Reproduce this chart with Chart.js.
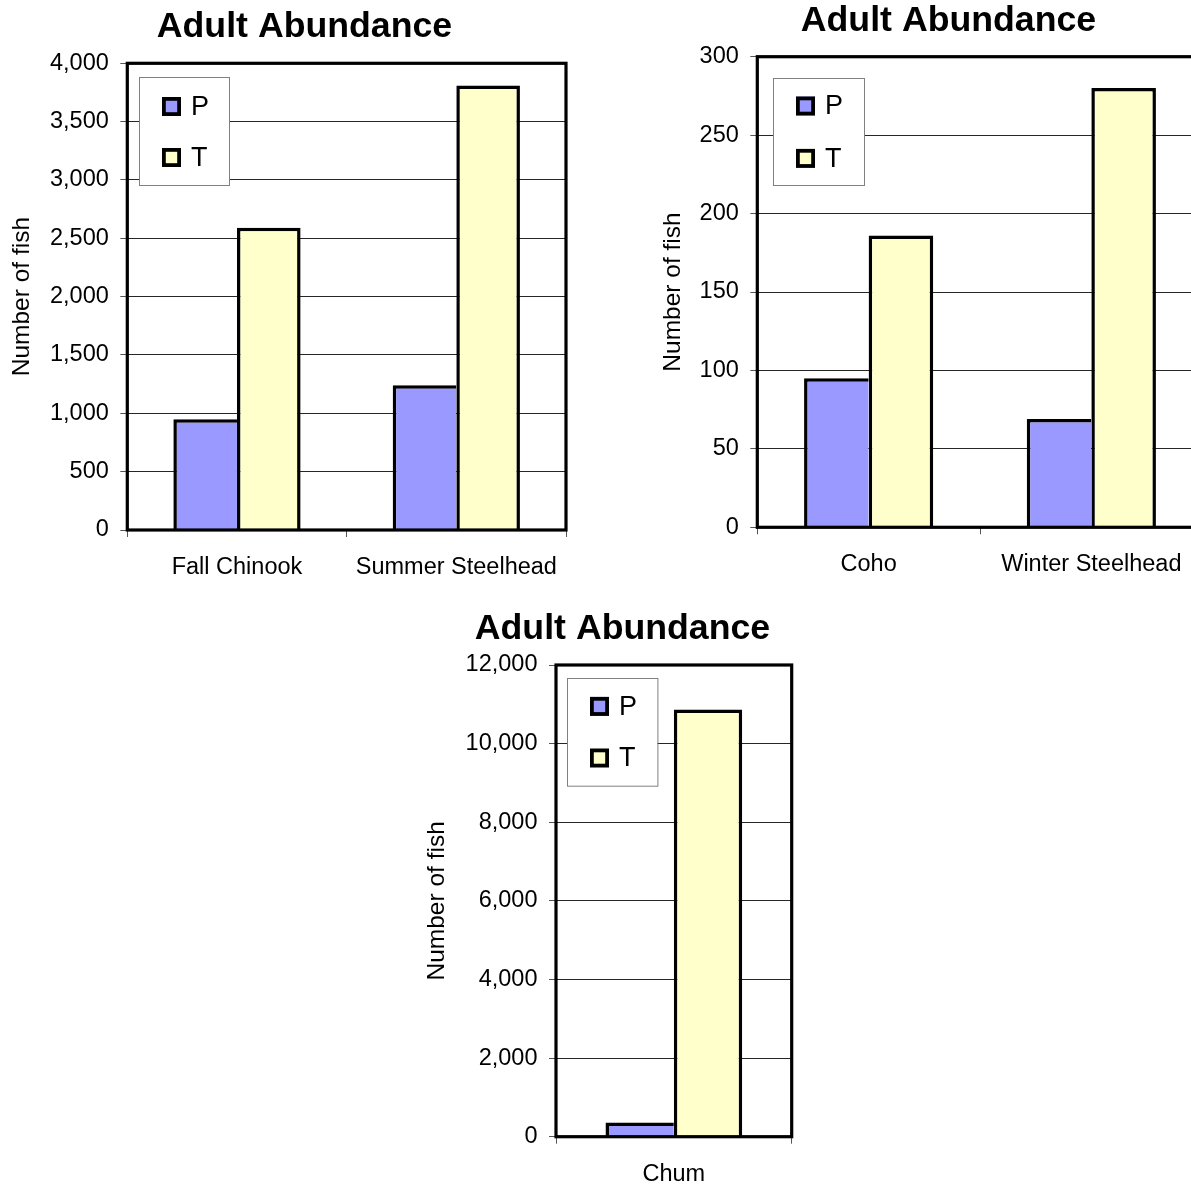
<!DOCTYPE html>
<html>
<head>
<meta charset="utf-8">
<title>Adult Abundance</title>
<script src="https://cdn.jsdelivr.net/npm/chart.js@4/dist/chart.umd.min.js"></script>
<style>
  html, body { margin: 0; padding: 0; background: #fff; width: 1191px; height: 1188px; overflow: hidden; }
  canvas { position: absolute; }
</style>
</head>
<body>
<canvas id="chartA" width="580" height="600" style="left:0px;top:0px;width:580px;height:600px"></canvas>
<canvas id="chartB" width="565" height="600" style="left:650px;top:0px;width:565px;height:600px"></canvas>
<canvas id="chartC" width="420" height="593" style="left:400px;top:595px;width:420px;height:593px"></canvas>
<script>
// ---- data ----
const seriesNames = ['P', 'T'];
const chartTitle = 'Adult Abundance';
const yTitle = 'Number of fish';

const groupsA = ['Fall Chinook', 'Summer Steelhead'];
const pA = [950, 1240];
const tA = [2590, 3810];
const ticksA = [0, 500, 1000, 1500, 2000, 2500, 3000, 3500, 4000];

const groupsB = ['Coho', 'Winter Steelhead'];
const pB = [95, 69];
const tB = [186, 280];
const ticksB = [0, 50, 100, 150, 200, 250, 300];

const groupsC = ['Chum'];
const pC = [360];
const tC = [10870];
const ticksC = [0, 2000, 4000, 6000, 8000, 10000, 12000];

const colorP = '#9999ff';
const colorT = '#ffffcc';

Chart.defaults.font.family = '"Liberation Sans", Arial, Helvetica, sans-serif';
Chart.defaults.color = '#000';

// plot frame + boxed legend drawn inside the plot area
const framedLegend = {
  id: 'framedLegend',
  afterDatasetsDraw(chart, args, opts) {
    const ctx = chart.ctx, a = chart.chartArea;
    ctx.save();
    ctx.lineWidth = 3.2;
    ctx.strokeStyle = '#000';
    ctx.strokeRect(a.left, a.top, a.right - a.left, a.bottom - a.top);

    const x = Math.round(a.left + opts.dx), y = Math.round(a.top + opts.dy);
    ctx.fillStyle = '#fff';
    ctx.fillRect(x, y, opts.w, opts.h);
    ctx.lineWidth = 1;
    ctx.strokeStyle = '#808080';
    ctx.strokeRect(x + 0.5, y + 0.5, opts.w, opts.h);

    chart.data.datasets.forEach((ds, i) => {
      const cy = y + opts.rows[i];
      const sx = x + 23, s = 19, bw = 3.8;
      ctx.fillStyle = ds.backgroundColor;
      ctx.fillRect(sx, cy - s / 2, s, s);
      ctx.lineWidth = bw;
      ctx.strokeStyle = '#000';
      ctx.strokeRect(sx + bw / 2, cy - s / 2 + bw / 2, s - bw, s - bw);
      ctx.fillStyle = '#000';
      ctx.font = '27px "Liberation Sans", Arial, sans-serif';
      ctx.textAlign = 'left';
      ctx.textBaseline = 'middle';
      ctx.fillText(ds.label, x + 52, cy + 1);
    });
    ctx.restore();
  }
};

function makeChart(id, groups, pVals, tVals, ticks, L) {
  return new Chart(document.getElementById(id), {
    type: 'bar',
    data: {
      labels: groups,
      datasets: [
        {
          label: seriesNames[0], data: pVals,
          backgroundColor: colorP, borderColor: '#000',
          borderWidth: {top: 3.5, left: 3.5, right: 0, bottom: 0},
          barPercentage: 1, categoryPercentage: 0.58
        },
        {
          label: seriesNames[1], data: tVals,
          backgroundColor: colorT, borderColor: '#000',
          borderWidth: 3.5,
          barPercentage: 1, categoryPercentage: 0.58
        }
      ]
    },
    options: {
      responsive: false,
      animation: false,
      events: [],
      layout: { padding: { left: L.padL, right: L.padR, top: 0, bottom: 0 } },
      plugins: {
        legend: { display: false },
        tooltip: { enabled: false },
        title: {
          display: true, text: chartTitle, color: '#000',
          font: { size: 35.7, weight: 'bold', lineHeight: '36px' },
          padding: { top: L.titleTop, bottom: L.titleBottom }
        },
        framedLegend: L.legend
      },
      scales: {
        x: {
          border: { display: false },
          grid: { drawOnChartArea: false, drawTicks: true, tickLength: 7, tickColor: '#555', offset: true },
          ticks: { font: { size: 23.5 }, padding: L.xPad, color: '#000', maxRotation: 0, autoSkip: false },
          afterFit(s) { s.height = L.xH; }
        },
        y: {
          min: ticks[0], max: ticks[ticks.length - 1],
          border: { display: false },
          grid: { color: '#262626', lineWidth: 1, drawTicks: true, tickLength: 7, tickColor: '#555' },
          ticks: {
            font: { size: 23.5 }, padding: 11.5, color: '#000',
            callback: v => Number(v).toLocaleString('en-US')
          },
          title: {
            display: true, text: yTitle, color: '#000',
            font: { size: 24.5 }, padding: { top: L.yTitleOff, bottom: 0 }
          },
          afterBuildTicks(s) { s.ticks = ticks.map(v => ({ value: v })); },
          afterFit(s) { s.width = L.yW; }
        }
      }
    },
    plugins: [framedLegend]
  });
}

makeChart('chartA', groupsA, pA, tA, ticksA, {
  padL: 43, padR: 14, yW: 84.3, xH: 70, xPad: 16,
  titleTop: 9, titleBottom: 18.3, yTitleOff: -35.2,
  legend: { dx: 12, dy: 14, w: 90, h: 108, rows: [29.5, 80.5] }
});

makeChart('chartB', groupsB, pB, tB, ticksB, {
  padL: 44.3, padR: 12.3, yW: 63, xH: 72.7, xPad: 16.4,
  titleTop: 3, titleBottom: 17.7, yTitleOff: -36,
  legend: { dx: 15.4, dy: 21.6, w: 91, h: 107, rows: [28, 80.4] }
});

makeChart('chartC', groupsC, pC, tC, ticksC, {
  padL: 53.3, padR: 28.3, yW: 102.7, xH: 51.3, xPad: 17.2,
  titleTop: 16, titleBottom: 18, yTitleOff: -31,
  legend: { dx: 11.3, dy: 13.3, w: 90.4, h: 107.7, rows: [28.4, 80] }
});
</script>
</body>
</html>
